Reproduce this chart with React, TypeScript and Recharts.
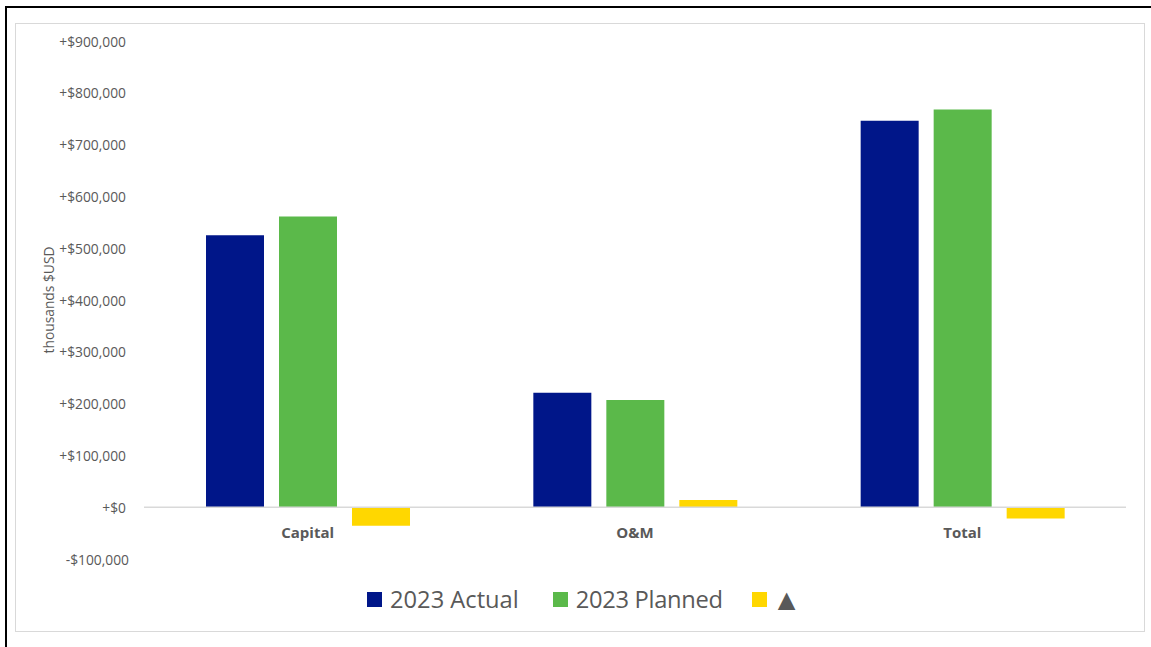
import { BarChart, Bar, XAxis, YAxis, Legend, ReferenceLine } from 'recharts';

// 各类别与系列数值（千美元）
const categories = ['Capital', 'O&M', 'Total'];
const actual2023 = [525000, 221000, 746000];
const planned2023 = [561000, 207000, 768000];
const delta = [-36000, 14000, -22000];
const yTicks = [-100000, 0, 100000, 200000, 300000, 400000, 500000, 600000, 700000, 800000, 900000];

const seriesNames = ['2023 Actual', '2023 Planned', '▲'];
const colors = ['#001689', '#5BB94A', '#FFD700'];

const FONT = '"Open Sans", "Noto Sans", sans-serif';
const TEXT = '#595959';

const chartData = categories.map((name, i) => ({
  name,
  actual: actual2023[i],
  planned: planned2023[i],
  delta: delta[i],
}));

const formatMoney = (v: number) =>
  (v < 0 ? '-$' : '+$') + Math.abs(v).toLocaleString('en-US');

function YTick({ x, y, payload }: any) {
  const v = payload.value as number;
  return (
    <text
      x={v < 0 ? x + 3 : x}
      y={y}
      textAnchor="end"
      dominantBaseline="central"
      fill={TEXT}
      fontSize={13.8}
      fontFamily={FONT}
    >
      {formatMoney(v)}
    </text>
  );
}

function XTick({ x, y, payload }: any) {
  // 标签放在零线下方
  return (
    <text
      x={x}
      y={y - 27}
      textAnchor="middle"
      dominantBaseline="central"
      fill={TEXT}
      fontSize={15}
      fontWeight="bold"
      fontFamily={FONT}
    >
      {payload.value}
    </text>
  );
}

function LegendContent() {
  return (
    <div
      style={{
        display: 'flex',
        justifyContent: 'flex-start',
        alignItems: 'center',
        paddingLeft: 351,
        fontFamily: FONT,
        fontSize: 23.7,
        color: TEXT,
        lineHeight: '28px',
      }}
    >
      {seriesNames.map((n, i) => (
        <div
          key={n}
          style={{ display: 'flex', alignItems: 'center', marginLeft: i === 0 ? 0 : i === 1 ? 34 : 29 }}
        >
          <span
            style={{
              width: 15,
              height: 15,
              background: colors[i],
              marginRight: i === 2 ? 5 : 8,
              display: 'inline-block',
            }}
          />
          <span style={i === 2 ? { fontSize: 30 } : i === 1 ? { letterSpacing: -0.3 } : undefined}>{n}</span>
        </div>
      ))}
    </div>
  );
}

export default function App() {
  return (
    <div
      style={{
        position: 'fixed',
        left: 0,
        top: 0,
        width: 1151,
        height: 647,
        background: '#fff',
        overflow: 'hidden',
      }}
    >
      <div
        style={{
          position: 'absolute',
          left: 5,
          top: 6,
          width: 1170,
          height: 670,
          border: '2px solid #000',
        }}
      />
      <div
        style={{
          position: 'absolute',
          left: 15,
          top: 23,
          width: 1130,
          height: 609,
          border: '1px solid #d9d9d9',
          boxSizing: 'border-box',
        }}
      >
        <BarChart
          width={1128}
          height={607}
          data={chartData}
          margin={{ top: 17, right: 18, bottom: 42, left: 0 }}
          barCategoryGap={62}
          barGap={15}
        >
          <XAxis
            dataKey="name"
            axisLine={false}
            tickLine={false}
            tickSize={0}
            tickMargin={0}
            height={30}
            tick={<XTick />}
            interval={0}
          />
          <YAxis
            domain={[-100000, 900000]}
            ticks={yTicks}
            interval={0}
            axisLine={false}
            tickLine={false}
            tickSize={0}
            tickMargin={18}
            width={128}
            tick={<YTick />}
            label={{
              content: ({ viewBox }: any) => (
                <text
                  x={viewBox.x + 32}
                  y={viewBox.y + viewBox.height / 2}
                  transform={`rotate(-90, ${viewBox.x + 32}, ${viewBox.y + viewBox.height / 2})`}
                  textAnchor="middle"
                  dominantBaseline="central"
                  fill={TEXT}
                  fontSize={13.8}
                  fontFamily={FONT}
                >
                  thousands $USD
                </text>
              ),
            }}
          />
          <ReferenceLine y={0} stroke="#d9d9d9" strokeWidth={1.5} />
          <Bar dataKey="actual" name={seriesNames[0]} fill={colors[0]} isAnimationActive={false} />
          <Bar dataKey="planned" name={seriesNames[1]} fill={colors[1]} isAnimationActive={false} />
          <Bar dataKey="delta" name={seriesNames[2]} fill={colors[2]} isAnimationActive={false} />
          <Legend
            verticalAlign="middle"
            align="center"
            layout="horizontal"
            content={<LegendContent />}
            wrapperStyle={{ top: 561, left: 0, width: 1128 }}
          />
        </BarChart>
      </div>
    </div>
  );
}
